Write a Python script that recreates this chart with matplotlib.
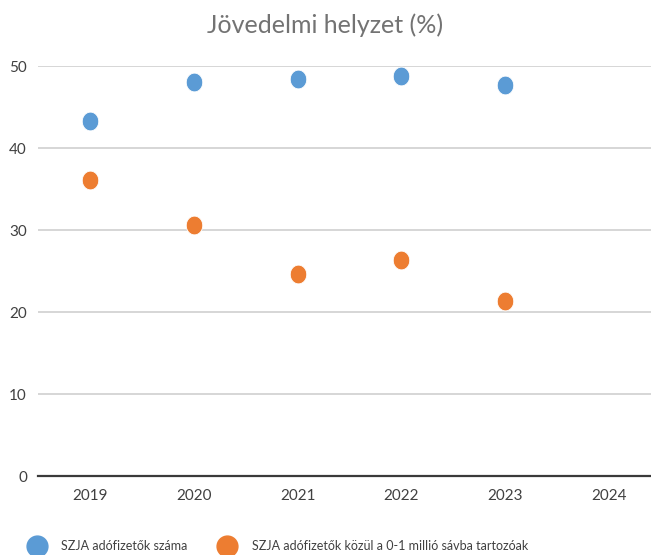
import matplotlib
matplotlib.use("Agg")
import matplotlib.pyplot as plt
from matplotlib.path import Path
from matplotlib.lines import Line2D
import numpy as np

plt.rcParams['font.family'] = ['Lato', 'DejaVu Sans']

years = ["2019", "2020", "2021", "2022", "2023", "2024"]
szja_total = [43.3, 48.05, 48.4, 48.8, 47.7]
szja_low = [36.1, 30.6, 24.6, 26.3, 21.3]
series_names = ["SZJA adófizetők száma", "SZJA adófizetők közül a 0-1 millió sávba tartozóak"]
colors = ["#5b9bd5", "#ed7d31"]
yticks = [0, 10, 20, 30, 40, 50]

# slightly tall ellipse marker
t = np.linspace(0, 2 * np.pi, 60)
ell = Path(np.column_stack([0.88 * np.cos(t), np.sin(t)]), closed=True)

fig = plt.figure(figsize=(6.51, 5.55), dpi=100)
ax = fig.add_axes([38 / 651, 79 / 555, (661 - 38) / 651, (476 - 66) / 555])

x = np.arange(len(years))
for vals, c in zip([szja_total, szja_low], colors):
    ax.plot(x[:len(vals)], vals, linestyle='none', marker=ell, markersize=13.5,
            color=c, markeredgecolor='white', markeredgewidth=0.6, clip_on=False, zorder=3)

ax.set_xlim(-0.5, len(years) - 0.5)
ax.set_ylim(0, 50)
ax.set_yticks(yticks)
ax.set_xticks(x)
ax.set_xticklabels(years)
ax.grid(axis='y', color='#d0d0d0', linewidth=1.2)
ax.set_axisbelow(True)
for s in ['top', 'right', 'left']:
    ax.spines[s].set_visible(False)
ax.spines['bottom'].set_color('#3a3a3a')
ax.spines['bottom'].set_linewidth(1.6)
ax.tick_params(axis='both', length=0, labelsize=11, colors='#404040')
ax.tick_params(axis='y', pad=8)
ax.tick_params(axis='x', pad=9)

fig.text(325 / 651, 1 - 25 / 555, "Jövedelmi helyzet (%)", ha='center', va='center',
         fontsize=18, color='#737373')

handles = [Line2D([], [], linestyle='none', marker='o', markersize=15, color=c) for c in colors]
fig.legend(handles, series_names, loc='center left', bbox_to_anchor=(24 / 651, 1 - 546 / 555),
           ncol=2, frameon=False, fontsize=9, handletextpad=1.35, columnspacing=2.6,
           labelcolor='#404040', borderaxespad=0, handlelength=1.2)

fig.savefig("out.png", dpi=100)
